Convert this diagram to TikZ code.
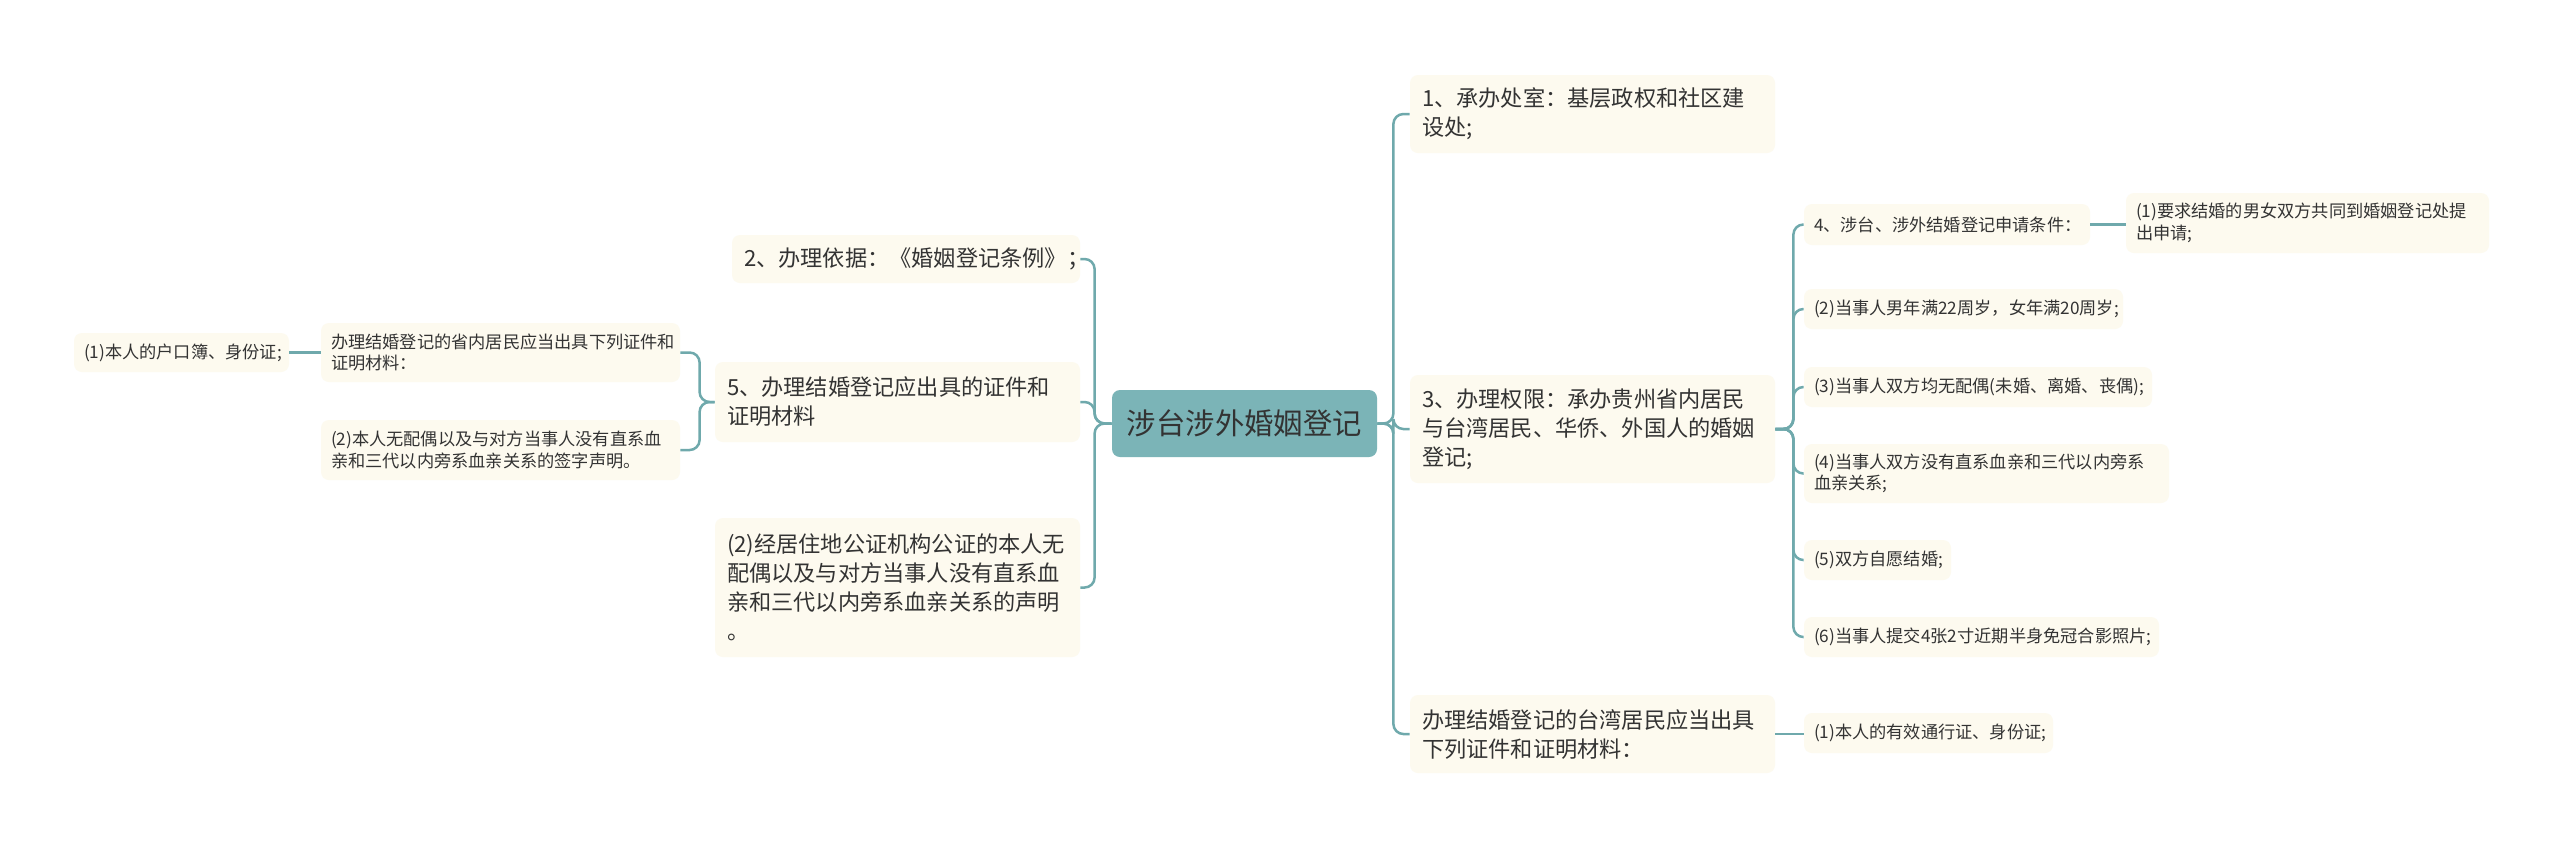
\documentclass[tikz,border=0pt]{standalone}
\usepackage{fontspec}
\setmainfont{Noto Sans CJK SC}
\definecolor{mmline}{HTML}{6FA9AC}
\definecolor{mmcream}{HTML}{FDFAEF}
\definecolor{mmcenter}{HTML}{7BB4B7}
\definecolor{mmink}{HTML}{333333}
\newcommand\fbig{\fontsize{11.1pt}{14.5pt}\selectfont}
\newcommand\fsmall{\fontsize{8.6pt}{10.75pt}\selectfont}
\newcommand\fcent{\fontsize{14.7pt}{18pt}\selectfont}
\tikzset{
  centerbox/.style={fill=mmcenter, rounded corners=4pt, text=mmink, font=\fcent, align=center, inner sep=0pt},
  bigbox/.style={fill=mmcream, rounded corners=4pt, text=mmink, font=\fbig, align=left, inner xsep=6pt, inner ysep=0pt},
  smallbox/.style={fill=mmcream, rounded corners=4pt, text=mmink, font=\fsmall, align=left, inner xsep=5pt, inner ysep=0pt},
  conn/.style={draw=mmline, line width=1.25pt, rounded corners=5pt}
}
\begin{document}
\begin{tikzpicture}[x=0.5pt,y=-0.5pt]
\fill[white] (0,0) rectangle (2560,848);
\useasboundingbox (0,0) rectangle (2560,848);

% center
\node[centerbox, minimum width=132.5pt, minimum height=33.5pt] (C) at (1244.5,423.5) {涉台涉外婚姻登记};

% right level 1
\node[bigbox, text width=170.5pt, minimum height=39pt] (R1) at (1592.5,114) {1、承办处室：基层政权和社区建\\设处;};
\node[bigbox, text width=170.5pt, minimum height=54pt] (R3) at (1592.5,429) {3、办理权限：承办贵州省内居民\\与台湾居民、华侨、外国人的婚姻\\登记;};
\node[bigbox, text width=170.5pt, minimum height=39pt] (R4) at (1592.5,734) {办理结婚登记的台湾居民应当出具\\下列证件和证明材料：};

% left level 1
\node[bigbox, text width=162pt, minimum height=24pt] (L2) at (906,259) {2、办理依据：《婚姻登记条例》；};
\node[bigbox, text width=170.5pt, minimum height=40pt] (L5) at (897.5,402) {5、办理结婚登记应出具的证件和\\证明材料};
\node[bigbox, text width=170.5pt, minimum height=69.5pt] (L6) at (897.5,587.5) {(2)经居住地公证机构公证的本人无\\配偶以及与对方当事人没有直系血\\亲和三代以内旁系血亲关系的声明\\。};

% far left
\node[smallbox, text width=169.5pt, minimum height=29.5pt] (LL1) at (500.5,352.5) {办理结婚登记的省内居民应当出具下列证件和\\证明材料：};
\node[smallbox, text width=169.5pt, minimum height=30pt] (LL2) at (500.5,450) {(2)本人无配偶以及与对方当事人没有直系血\\亲和三代以内旁系血亲关系的签字声明。};
\node[smallbox, text width=97.5pt, minimum height=19.5pt] (LLL) at (181.5,352.5) {(1)本人的户口簿、身份证;};

% right small
\node[smallbox, text width=133pt, minimum height=20.5pt] (S4) at (1947,224.5) {4、涉台、涉外结婚登记申请条件：};
\node[smallbox, text width=171.5pt, minimum height=30pt] (S41) at (2307.5,223) {(1)要求结婚的男女双方共同到婚姻登记处提\\出申请;};
\node[smallbox, text width=149.5pt, minimum height=20pt] (S2) at (1963.5,309) {(2)当事人男年满22周岁，女年满20周岁;};
\node[smallbox, text width=164pt, minimum height=20pt] (S3) at (1978,387) {(3)当事人双方均无配偶(未婚、离婚、丧偶);};
\node[smallbox, text width=172.5pt, minimum height=29.5pt] (S4b) at (1986.5,473.5) {(4)当事人双方没有直系血亲和三代以内旁系\\血亲关系;};
\node[smallbox, text width=63.5pt, minimum height=20pt] (S5) at (1877.5,560) {(5)双方自愿结婚;};
\node[smallbox, text width=167.5pt, minimum height=20pt] (S6) at (1981.5,637) {(6)当事人提交4张2寸近期半身免冠合影照片;};
\node[smallbox, text width=114.5pt, minimum height=20pt] (S7) at (1928.5,733) {(1)本人的有效通行证、身份证;};

% connectors: center -> right
\draw[conn] (C.east) -- ++(16,0) |- (R1.west);
\draw[conn] (C.east) -- ++(16,0) |- (R3.west);
\draw[conn] (C.east) -- ++(16,0) |- (R4.west);
% center -> left
\draw[conn] (C.west) -- ++(-17,0) |- (L2.east);
\draw[conn] (C.west) -- ++(-17,0) |- (L5.east);
\draw[conn] (C.west) -- ++(-17,0) |- (L6.east);
% L5 -> far left
\draw[conn] (L5.west) -- ++(-15,0) |- (LL1.east);
\draw[conn] (L5.west) -- ++(-15,0) |- (LL2.east);
\draw[conn] (LL1.west) -- (LL1.west -| LLL.east);
% R3 -> small
\draw[conn] (R3.east) -- ++(18,0) |- (S4.west);
\draw[conn] (R3.east) -- ++(18,0) |- (S2.west);
\draw[conn] (R3.east) -- ++(18,0) |- (S3.west);
\draw[conn] (R3.east) -- ++(18,0) |- (S4b.west);
\draw[conn] (R3.east) -- ++(18,0) |- (S5.west);
\draw[conn] (R3.east) -- ++(18,0) |- (S6.west);
\draw[conn] (S4.east) -- (S4.east -| S41.west);
\draw[conn] (R4.east) -- (R4.east -| S7.west);
\end{tikzpicture}
\end{document}
